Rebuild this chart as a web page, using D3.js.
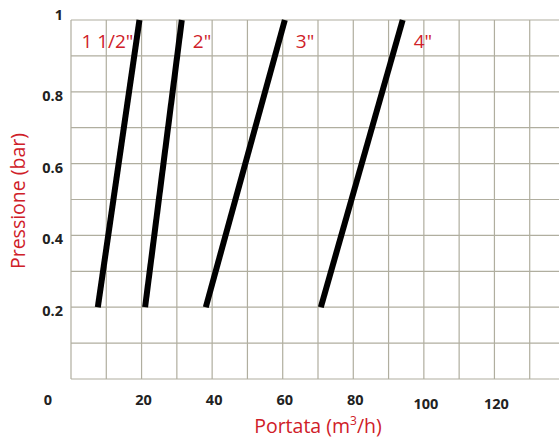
<!DOCTYPE html>
<html lang="it">
<head>
<meta charset="UTF-8">
<title>Portata / Pressione</title>
<script src="https://cdn.jsdelivr.net/npm/d3@7"></script>
<style>
  body { margin: 0; background: #fff; }
  svg { display: block; }
</style>
</head>
<body>
<div id="chart"></div>
<script>
// pipe sizes and their flow (m3/h) at 0.2 bar and at 1 bar
var sizes = ['1 1/2"', '2"', '3"', '4"'];
var pressures = [0.2, 1];
var flowLow = [7.6, 21.0, 38.2, 70.8];
var flowHigh = [19.4, 31.4, 60.6, 94.0];

var xTicks = [0, 20, 40, 60, 80, 100, 120];
var yTicks = [0.2, 0.4, 0.6, 0.8, 1];

var width = 559, height = 438;

var x = d3.scaleLinear().domain([0, 140]).range([71, 565]);
var y = d3.scaleLinear().domain([0, 1]).range([379, 20]);

var svg = d3.select("#chart").append("svg")
    .attr("width", width)
    .attr("height", height);

// grid
var grid = svg.append("g");
grid.selectAll(".vline")
    .data(d3.range(0, 140, 10))
    .enter().append("line")
    .attr("x1", function(d) { return x(d); })
    .attr("x2", function(d) { return x(d); })
    .attr("y1", y(1))
    .attr("y2", y(0))
    .style("stroke", "#b0ae9f")
    .style("stroke-width", 1.2);

grid.selectAll(".hline")
    .data(d3.range(0, 11).map(function(i) { return i / 10; }))
    .enter().append("line")
    .attr("x1", x(0))
    .attr("x2", width)
    .attr("y1", function(d) { return y(d); })
    .attr("y2", function(d) { return y(d); })
    .style("stroke", "#b0ae9f")
    .style("stroke-width", 1.2);

// tick labels
svg.selectAll(".ylab")
    .data(yTicks)
    .enter().append("text")
    .attr("x", 63)
    .attr("y", function(d) { return y(d) + (d === 1 ? 0 : 9); })
    .attr("text-anchor", "end")
    .style("font-family", "'Open Sans', sans-serif")
    .style("font-weight", "bold")
    .style("font-size", "14.5px")
    .style("fill", "#222")
    .text(function(d) { return d === 1 ? "1" : d3.format(".1f")(d); });

svg.selectAll(".xlab")
    .data(xTicks)
    .enter().append("text")
    .attr("x", function(d) { return d === 0 ? x(0) - 23 : x(d) + 2; })
    .attr("y", function(d) { return d >= 100 ? 409 : 405; })
    .attr("text-anchor", "middle")
    .style("font-family", "'Open Sans', sans-serif")
    .style("font-weight", "bold")
    .style("font-size", "14.5px")
    .style("fill", "#222")
    .text(function(d) { return d; });

// curves
var line = d3.line()
    .x(function(d) { return x(d[0]); })
    .y(function(d) { return y(d[1]); });

svg.selectAll(".curve")
    .data(sizes.map(function(s, i) {
        return [[flowLow[i], pressures[0]], [flowHigh[i], pressures[1]]];
    }))
    .enter().append("path")
    .attr("d", line)
    .style("fill", "none")
    .style("stroke", "#000")
    .style("stroke-width", 6);

// size labels
svg.selectAll(".size")
    .data(sizes)
    .enter().append("text")
    .attr("x", function(d, i) { return i === 0 ? x(flowHigh[i]) - 6 : x(flowHigh[i]) + 11; })
    .attr("y", 48)
    .attr("text-anchor", function(d, i) { return i === 0 ? "end" : "start"; })
    .style("font-family", "'Open Sans', sans-serif")
    .style("font-size", "19px")
    .style("fill", "#cf2028")
    .text(function(d) { return d; });

// axis titles
svg.append("text")
    .attr("transform", "translate(25," + 201 + ") rotate(-90)")
    .attr("text-anchor", "middle")
    .style("font-family", "'Open Sans', sans-serif")
    .style("font-size", "19.5px")
    .style("fill", "#cf2028")
    .text("Pressione (bar)");

var xt = svg.append("text")
    .attr("x", 318)
    .attr("y", 433)
    .attr("text-anchor", "middle")
    .style("font-family", "'Open Sans', sans-serif")
    .style("font-size", "19.5px")
    .style("fill", "#cf2028");
xt.append("tspan").text("Portata (m");
xt.append("tspan").attr("dy", -8).style("font-size", "12px").text("3");
xt.append("tspan").attr("dy", 8).text("/h)");
</script>
</body>
</html>
